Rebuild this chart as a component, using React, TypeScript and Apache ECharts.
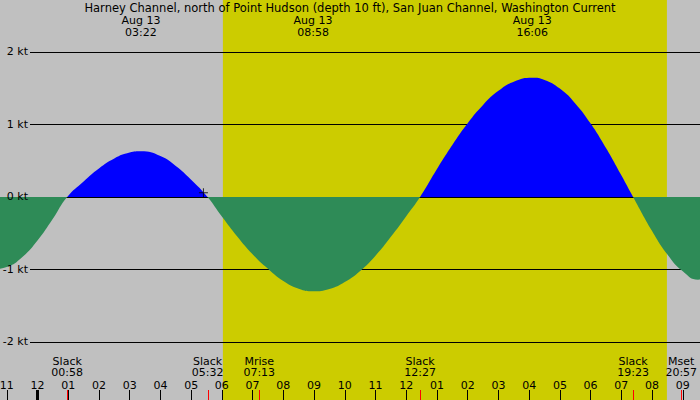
import React, { useEffect, useRef } from 'react';
import * as echarts from 'echarts';

const stationTitle = 'Harney Channel, north of Point Hudson (depth 10 ft), San Juan Channel, Washington Current';
const dateLabel = 'Aug 13';

// hours after midnight (Aug 13) and current speed in knots (flood +, ebb -)
const curveHours = [-1.5, -1.0, -0.5, 0, 0.5, 0.967, 1.5, 2, 2.5, 3, 3.367, 4, 4.5, 5, 5.533, 6, 6.5, 7, 7.5, 8, 8.5, 8.967, 9.5, 10, 10.5, 11, 11.5, 12, 12.45, 13, 13.5, 14, 14.5, 15, 15.5, 16.1, 16.5, 17, 17.5, 18, 18.5, 19, 19.383, 20, 20.5, 21, 21.5, 22];
const curveKnots = [-1.0, -0.965, -0.83, -0.6, -0.3, 0, 0.215, 0.394, 0.531, 0.612, 0.63, 0.565, 0.429, 0.239, 0, -0.27, -0.545, -0.79, -0.99, -1.16, -1.265, -1.3, -1.268, -1.172, -1.02, -0.81, -0.55, -0.265, 0, 0.386, 0.718, 1.018, 1.27, 1.464, 1.591, 1.645, 1.615, 1.495, 1.29, 1.012, 0.675, 0.299, 0, -0.468, -0.792, -1.025, -1.14, -1.125];

const ktTicks = [2, 1, 0, -1, -2];
const hourTicks = [-1, 0, 1, 2, 3, 4, 5, 6, 7, 8, 9, 10, 11, 12, 13, 14, 15, 16, 17, 18, 19, 20, 21];
const midnightTicks = [0];

const maxTimes = ['03:22', '08:58', '16:06'];
const eventNames = ['Slack', 'Slack', 'Mrise', 'Slack', 'Slack', 'Mset'];
const eventTimes = ['00:58', '05:32', '07:13', '12:27', '19:23', '20:57'];
const daylight = ['06:02', '20:29'];
const nowTime = '05:24';
const nowKnots = 0.06;

const X_MIN = -1.22;
const X_MAX = 21.56;
const Y_MIN = -2.8;
const Y_MAX = 2.717;

const FONT = '"DejaVu Sans", sans-serif';
const FS = 11;

const toHours = (t: string) => {
  const [h, m] = t.split(':').map(Number);
  return h + m / 60;
};
const hourLabel = (h: number) => {
  const m = ((h % 12) + 12) % 12;
  const v = m === 0 ? 12 : m;
  return v < 10 ? '0' + v : String(v);
};

export default function App() {
  const ref = useRef<HTMLDivElement>(null);
  useEffect(() => {
    document.body.style.margin = '0';
    if (!ref.current) return;
    const chart = echarts.init(ref.current, null, { renderer: 'svg' });
    const textStyle = (text: string, align: string, lh: number) => ({
      text,
      fill: '#000',
      font: `${FS}px ${FONT}`,
      align,
      textAlign: align,
      verticalAlign: 'middle',
      textVerticalAlign: 'middle',
      lineHeight: lh,
    });
    const option: any = {
      animation: false,
      backgroundColor: '#c0c0c0',
      title: {
        text: stationTitle,
        left: 'center',
        top: 1.5,
        padding: 0,
        textStyle: { fontSize: 11.5, fontWeight: 'normal', color: '#000', fontFamily: FONT, lineHeight: 12 },
      },
      grid: { left: 0, right: 0, top: 0, bottom: 0 },
      xAxis: {
        type: 'value',
        min: X_MIN,
        max: X_MAX,
        z: 3,
        axisLine: { show: false, onZero: false },
        splitLine: { show: false },
        axisTick: {
          show: true,
          inside: true,
          length: 10,
          customValues: hourTicks,
          lineStyle: { color: '#000', width: 1 },
        },
        axisLabel: { show: false },
      },
      yAxis: { type: 'value', min: Y_MIN, max: Y_MAX, show: false },
      visualMap: {
        type: 'piecewise',
        show: false,
        dimension: 1,
        seriesIndex: 2,
        pieces: [
          { gte: -10, lt: 0, color: '#2e8b57' },
          { gte: 0, lte: 10, color: '#0000ff' },
        ],
      },
      series: [
        {
          type: 'custom',
          z: 0,
          silent: true,
          data: [[toHours(daylight[0]), toHours(daylight[1])]],
          renderItem: (params: any, api: any) => {
            const cs = params.coordSys;
            const s = api.coord([api.value(0), 0]);
            const e = api.coord([api.value(1), 0]);
            return {
              type: 'rect',
              shape: { x: s[0], y: cs.y, width: e[0] - s[0], height: cs.height },
              style: { fill: '#cccc00' },
            };
          },
        },
        {
          type: 'custom',
          z: 1,
          silent: true,
          data: ktTicks.map((v) => [0, v]),
          renderItem: (params: any, api: any) => {
            const cs = params.coordSys;
            const y = Math.round(api.coord([0, api.value(1)])[1]) + 0.5;
            return {
              type: 'line',
              shape: { x1: cs.x + 30, y1: y, x2: cs.x + cs.width, y2: y },
              style: { stroke: '#000', lineWidth: 1 },
            };
          },
        },
        {
          type: 'line',
          z: 2,
          silent: true,
          smooth: 0.5,
          showSymbol: false,
          lineStyle: { width: 0 },
          areaStyle: { opacity: 1, origin: 0 },
          data: curveHours.map((h, i) => [h, curveKnots[i]]),
        },
        {
          type: 'scatter',
          z: 4,
          silent: true,
          symbol: 'path://M0,4h9v1h-9z M4,0h1v9h-1z',
          symbolSize: 9,
          itemStyle: { color: '#000' },
          data: [[toHours(nowTime), nowKnots]],
        },
        {
          type: 'custom',
          z: 5,
          silent: true,
          data: ktTicks.map((v) => [0, v]),
          renderItem: (params: any, api: any) => {
            const cs = params.coordSys;
            const v = api.value(1);
            const y = api.coord([0, v])[1];
            return {
              type: 'text',
              x: cs.x + 28,
              y,
              style: textStyle(`${v} kt`, 'right', 12),
            };
          },
        },
        {
          type: 'custom',
          z: 5,
          silent: true,
          data: hourTicks.map((h) => [h, 0]),
          renderItem: (params: any, api: any) => {
            const cs = params.coordSys;
            const h = api.value(0);
            const x = api.coord([h, 0])[0];
            return {
              type: 'text',
              x,
              y: cs.y + cs.height - 15,
              style: textStyle(hourLabel(h), 'center', 10),
            };
          },
        },
        {
          type: 'custom',
          z: 5,
          silent: true,
          data: eventTimes.map((t) => [toHours(t), 0]),
          renderItem: (params: any, api: any) => {
            const cs = params.coordSys;
            const x = Math.round(api.coord([api.value(0), 0])[0]) + 0.5;
            const b = cs.y + cs.height;
            return {
              type: 'line',
              shape: { x1: x, y1: b - 10, x2: x, y2: b },
              style: { stroke: '#ff0000', lineWidth: 1 },
            };
          },
        },
        {
          type: 'custom',
          z: 5,
          silent: true,
          data: midnightTicks.map((h) => [h, 0]),
          renderItem: (params: any, api: any) => {
            const cs = params.coordSys;
            const x = Math.round(api.coord([api.value(0), 0])[0]) + 0.5;
            const b = cs.y + cs.height;
            return {
              type: 'line',
              shape: { x1: x, y1: b - 10, x2: x, y2: b },
              style: { stroke: '#000', lineWidth: 3 },
            };
          },
        },
        {
          type: 'custom',
          z: 5,
          silent: true,
          data: maxTimes.map((t, i) => [toHours(t), 0, i]),
          renderItem: (params: any, api: any) => {
            const cs = params.coordSys;
            const i = api.value(2);
            const x = api.coord([api.value(0), 0])[0];
            return {
              type: 'text',
              x,
              y: cs.y + 26,
              style: textStyle(`${dateLabel}\n${maxTimes[i]}`, 'center', 12),
            };
          },
        },
        {
          type: 'custom',
          z: 5,
          silent: true,
          data: eventTimes.map((t, i) => [toHours(t), 0, i]),
          renderItem: (params: any, api: any) => {
            const cs = params.coordSys;
            const i = api.value(2);
            const x = api.coord([api.value(0), 0])[0];
            return {
              type: 'text',
              x,
              y: cs.y + cs.height - 33,
              style: textStyle(`${eventNames[i]}\n${eventTimes[i]}`, 'center', 11.5),
            };
          },
        },
      ],
    };
    chart.setOption(option);
    return () => chart.dispose();
  }, []);
  return <div ref={ref} style={{ width: 700, height: 400 }} />;
}
